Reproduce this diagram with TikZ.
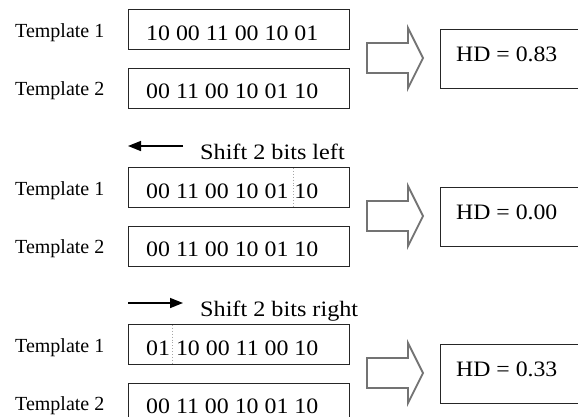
\documentclass[tikz,border=0pt]{standalone}
\usepackage{graphicx}
\usepackage{fontspec}
\setmainfont{Liberation Serif}
\usetikzlibrary{arrows.meta}
\begin{document}
\begin{tikzpicture}[x=1pt,y=-1pt,
  bitbox/.style={draw=black!85,line width=1.1pt,minimum width=221pt,minimum height=40pt,inner sep=0pt,anchor=north west},
  resbox/.style={draw=black!85,line width=1.1pt,minimum width=170pt,minimum height=59pt,inner sep=0pt,anchor=north west},
  lbl/.style={anchor=base west,inner sep=0pt,font=\fontsize{20}{24}\selectfont},
  bits/.style={anchor=base west,inner sep=0pt,font=\fontsize{22}{26}\selectfont},
  blockarrow/.style={draw=black!55,line width=1.8pt,line join=miter,fill=white},
  shiftarrow/.style={line width=1.5pt,-{Triangle[length=13pt,width=10pt]}},
  splitline/.style={draw=black!35,dotted,line width=0.9pt}
]
\clip (0,0) rectangle (578,416);
\fill[white] (0,0) rectangle (578,416);

% ---------- group 1 ----------
\begin{scope}[shift={(0,9)}]
  \node[lbl] (la1) at (15,28) {Template 1};
  \node[bitbox] (ba1) at (128,0) {};
  \node[bits] (ta1) at (146,31) {\scalebox{1.085}[1]{10 00 11 00 10 01}};
  \node[lbl] (la2) at (15,86) {Template 2};
  \node[bitbox] (ba2) at (128,59) {};
  \node[bits] (ta2) at (146,89) {\scalebox{1.085}[1]{00 11 00 10 01 10}};
  \draw[blockarrow] (367,34) -- (408,34) -- (408,19) -- (423,49) -- (408,79) -- (408,64) -- (367,64) -- cycle;
  \node[resbox] (ra) at (440,20) {};
  \node[bits] (hda) at (456,52) {\scalebox{1.08}[1]{HD = 0.83}};
\end{scope}

% ---------- group 2 ----------
\begin{scope}[shift={(0,167)}]
  \coordinate (sa0) at (183,-21);
  \coordinate (sa1) at (128,-21);
  \draw[shiftarrow] (sa0) -- (sa1);
  \node[bits] (sha) at (200,-8) {\scalebox{1.1}[1]{Shift 2 bits left}};
  \node[lbl] (lb1) at (15,28) {Template 1};
  \node[bitbox] (bb1) at (128,0) {};
  \node[bits] (tb1) at (146,31) {\scalebox{1.085}[1]{00 11 00 10 01 10}};
  \draw[splitline] (293,1) -- (293,39);
  \node[lbl] (lb2) at (15,86) {Template 2};
  \node[bitbox] (bb2) at (128,59) {};
  \node[bits] (tb2) at (146,89) {\scalebox{1.085}[1]{00 11 00 10 01 10}};
  \draw[blockarrow] (367,34) -- (408,34) -- (408,19) -- (423,49) -- (408,79) -- (408,64) -- (367,64) -- cycle;
  \node[resbox] (rb) at (440,20) {};
  \node[bits] (hdb) at (456,52) {\scalebox{1.08}[1]{HD = 0.00}};
\end{scope}

% ---------- group 3 ----------
\begin{scope}[shift={(0,324)}]
  \coordinate (sb0) at (128,-21);
  \coordinate (sb1) at (183,-21);
  \draw[shiftarrow] (sb0) -- (sb1);
  \node[bits] (shb) at (200,-8) {\scalebox{1.1}[1]{Shift 2 bits right}};
  \node[lbl] (lc1) at (15,28) {Template 1};
  \node[bitbox] (bc1) at (128,0) {};
  \node[bits] (tc1) at (146,31) {\scalebox{1.085}[1]{01 10 00 11 00 10}};
  \draw[splitline] (172,1) -- (172,39);
  \node[lbl] (lc2) at (15,86) {Template 2};
  \node[bitbox] (bc2) at (128,59) {};
  \node[bits] (tc2) at (146,89) {\scalebox{1.085}[1]{00 11 00 10 01 10}};
  \draw[blockarrow] (367,34) -- (408,34) -- (408,19) -- (423,49) -- (408,79) -- (408,64) -- (367,64) -- cycle;
  \node[resbox] (rc) at (440,20) {};
  \node[bits] (hdc) at (456,52) {\scalebox{1.08}[1]{HD = 0.33}};
\end{scope}
\end{tikzpicture}
\end{document}
